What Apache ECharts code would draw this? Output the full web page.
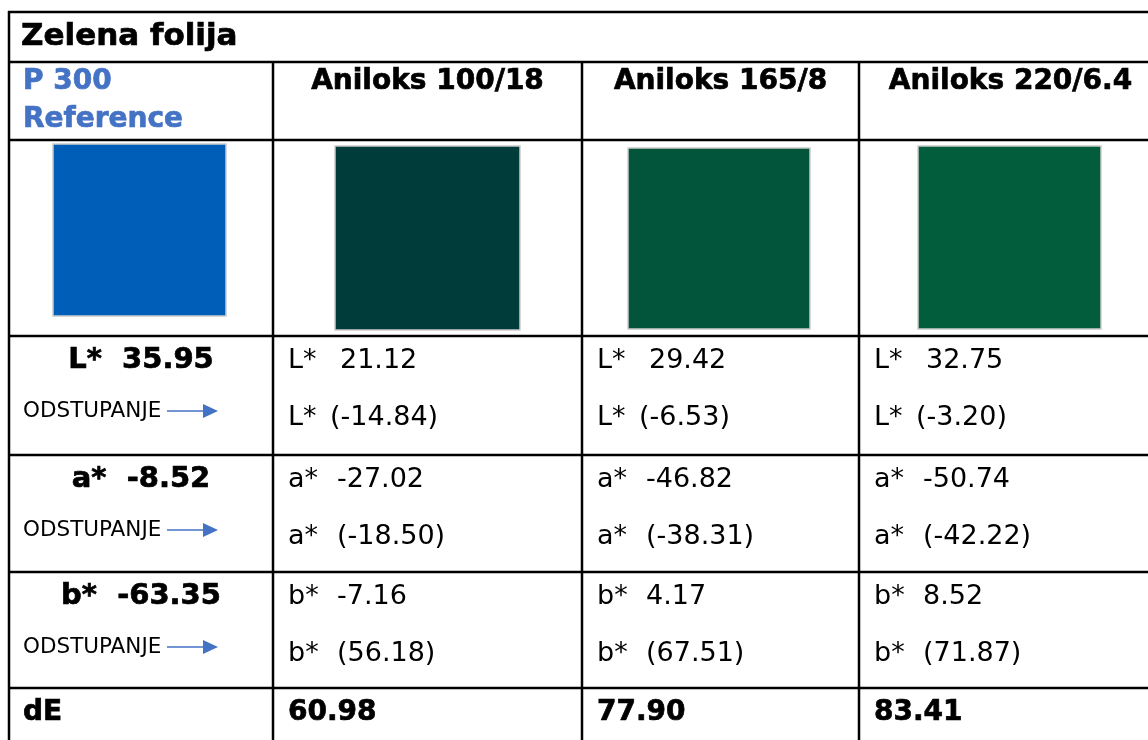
<!DOCTYPE html>
<html><head><meta charset="utf-8">
<script src="https://cdn.jsdelivr.net/npm/echarts@6/dist/echarts.min.js"></script>
<style>html,body{margin:0;padding:0;background:#fff}#c{width:1148px;height:740px}</style>
</head><body><div id="c"></div>
<script>
// ---------- data ----------
const tableTitle = 'Zelena folija';
const referenceName = ['P 300', 'Reference'];
const categories = ['Aniloks 100/18', 'Aniloks 165/8', 'Aniloks 220/6.4'];
const channels = ['L*', 'a*', 'b*'];
const referenceValues = [35.95, -8.52, -63.35];
const lValues = [21.12, 29.42, 32.75];
const lDeviation = [-14.84, -6.53, -3.20];
const aValues = [-27.02, -46.82, -50.74];
const aDeviation = [-18.50, -38.31, -42.22];
const bValues = [-7.16, 4.17, 8.52];
const bDeviation = [56.18, 67.51, 71.87];
const dEValues = [60.98, 77.90, 83.41];
const swatchColors = ['#005EB8', '#003D3A', '#02543A', '#025D3D'];
const deviationLabel = 'ODSTUPANJE';
const dELabel = 'dE';

// ---------- layout (table units = px) ----------
const W = 1148, H = 740;
const colEdges = [9, 273, 582, 859, 1162];
const rowEdges = [12, 62, 140, 336, 455, 572, 688, 760];
const swatchBoxes = [[53, 144, 226, 316], [335, 146, 520, 330], [628, 148, 810, 329], [918, 146, 1101, 329]];
const valueOffsets = [[67, 57], [64, 64], [64, 64]];
const FONT = "'DejaVu Sans', sans-serif";
const BLUE = '#4472C4';

const valueRows = [[lValues, lDeviation], [aValues, aDeviation], [bValues, bDeviation]];
const fmt = v => v.toFixed(2);

function txt(api, x, y, text, size, bold, color, align) {
  const p = api.coord([x, y]);
  const col = color || '#000';
  const style = {
    text: text, fill: col,
    font: (bold ? 'bold ' : '') + size + 'px ' + FONT,
    textAlign: align || 'left', textVerticalAlign: 'middle',
    align: align || 'left', verticalAlign: 'middle'
  };
  if (bold) { style.stroke = col; style.lineWidth = 0.7; }
  return { type: 'text', x: p[0], y: p[1], style: style };
}
function seg(api, x1, y1, x2, y2, w, color) {
  const a = api.coord([x1, y1]), b = api.coord([x2, y2]);
  return { type: 'line', shape: { x1: a[0], y1: a[1], x2: b[0], y2: b[1] },
    style: { stroke: color || '#000', lineWidth: w || 2 } };
}

function renderColumn(params, api) {
  const c = api.value(0);
  const left = colEdges[c], right = colEdges[c + 1];
  const ch = [];
  const sb = swatchBoxes[c];
  const p0 = api.coord([sb[0], sb[1]]), p1 = api.coord([sb[2], sb[3]]);
  ch.push({ type: 'rect', shape: { x: p0[0], y: p0[1], width: p1[0] - p0[0], height: p1[1] - p0[1] },
    style: { fill: swatchColors[c], stroke: '#cccccc', lineWidth: 1.5 } });
  if (c === 0) {
    ch.push(txt(api, 21, 37, tableTitle, 31, true));
    ch.push(txt(api, 23, 82, referenceName[0], 28, true, BLUE));
    ch.push(txt(api, 23, 120, referenceName[1], 28, true, BLUE));
    for (let r = 0; r < 3; r++) {
      const top = rowEdges[3 + r];
      ch.push(txt(api, (left + right) / 2, top + 24, channels[r] + '  ' + fmt(referenceValues[r]), 29, true, '#000', 'center'));
      const yy = top + 75;
      ch.push(txt(api, 23, yy, deviationLabel, 21.5, false));
      ch.push(seg(api, 167, yy, 205, yy, 1.5, BLUE));
      const t1 = api.coord([203, yy - 7]), t2 = api.coord([218, yy]), t3 = api.coord([203, yy + 7]);
      ch.push({ type: 'polygon', shape: { points: [t1, t2, t3] }, style: { fill: BLUE } });
    }
    ch.push(txt(api, 23, rowEdges[6] + 25, dELabel, 28, true));
  } else {
    const k = c - 1;
    ch.push(txt(api, (left + right) / 2, 82, categories[k], 28, true, '#000', 'center'));
    for (let r = 0; r < 3; r++) {
      const top = rowEdges[3 + r];
      const v = valueRows[r][0][k], d = valueRows[r][1][k];
      ch.push(txt(api, left + 15, top + 25, channels[r], 27, false));
      ch.push(txt(api, left + valueOffsets[r][0], top + 25, fmt(v), 27, false));
      ch.push(txt(api, left + 15, top + 82, channels[r], 27, false));
      ch.push(txt(api, left + valueOffsets[r][1], top + 82, '(' + fmt(d) + ')', 27, false));
    }
    ch.push(txt(api, left + 15, rowEdges[6] + 25, fmt(dEValues[k]), 28, true));
  }
  return { type: 'group', children: ch };
}

function renderGrid(params, api) {
  const ch = [];
  [12, 62, 140, 336, 455, 572, 688].forEach(y => ch.push(seg(api, 8, y, W, y, 2.5)));
  ch.push(seg(api, 9, 11, 9, H, 2.5));
  [273, 582, 859].forEach(x => ch.push(seg(api, x, 62, x, H, 2.5)));
  return { type: 'group', children: ch };
}

const chart = echarts.init(document.getElementById('c'), null, { renderer: 'canvas' });
chart.setOption({
  animation: false,
  backgroundColor: '#fff',
  grid: { left: 0, right: 0, top: 0, bottom: 0 },
  xAxis: { type: 'value', min: 0, max: W, show: false },
  yAxis: { type: 'value', min: 0, max: H, inverse: true, show: false },
  series: [
    { type: 'custom', renderItem: renderColumn, data: [[0], [1], [2], [3]], clip: false },
    { type: 'custom', renderItem: renderGrid, data: [[0]], clip: false, z: 3 }
  ]
});
</script></body></html>
